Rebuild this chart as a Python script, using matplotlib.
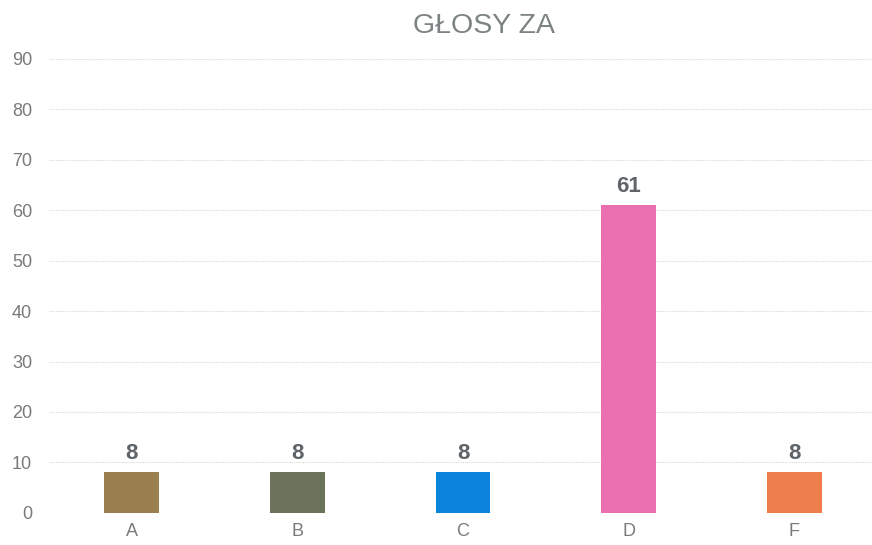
import matplotlib
matplotlib.use("Agg")
import matplotlib.pyplot as plt

categories = ["A", "B", "C", "D", "F"]
values = [8, 8, 8, 61, 8]
colors = ["#9c7f4e", "#6b735b", "#0b84dc", "#e96fb0", "#ee7e4c"]

plt.rcParams['font.family'] = ['Liberation Sans', 'DejaVu Sans']

fig = plt.figure(figsize=(8.72, 5.45), dpi=100)
ax = fig.add_axes([0.056, 0.059, 0.950, 0.833])

x = range(len(categories))
bars = ax.bar(x, values, width=0.33, color=colors, zorder=3)
for xi, v in zip(x, values):
    ax.text(xi, v + 1.6, str(v), ha="center", va="bottom", fontsize=16,
            fontweight="bold", color="#5f6468")

ax.set_xlim(-0.5, len(categories) - 0.5)
ax.set_ylim(0, 90)
ax.set_yticks(range(0, 91, 10))
ax.set_xticks(list(x))
ax.set_xticklabels(categories)
ax.tick_params(axis="both", length=0, labelsize=13, labelcolor="#7a7a7a")
ax.tick_params(axis="y", pad=12)
ax.tick_params(axis="x", pad=7)
ax.grid(axis="y", color="#d9d9d9", linewidth=0.8, linestyle=(0, (1, 1)), zorder=0)
for s in ax.spines.values():
    s.set_visible(False)

fig.text(0.555, 0.953, "GŁOSY ZA", ha="center", va="center", fontsize=20.5, color="#7d8384")

fig.savefig("out.png", dpi=100)
